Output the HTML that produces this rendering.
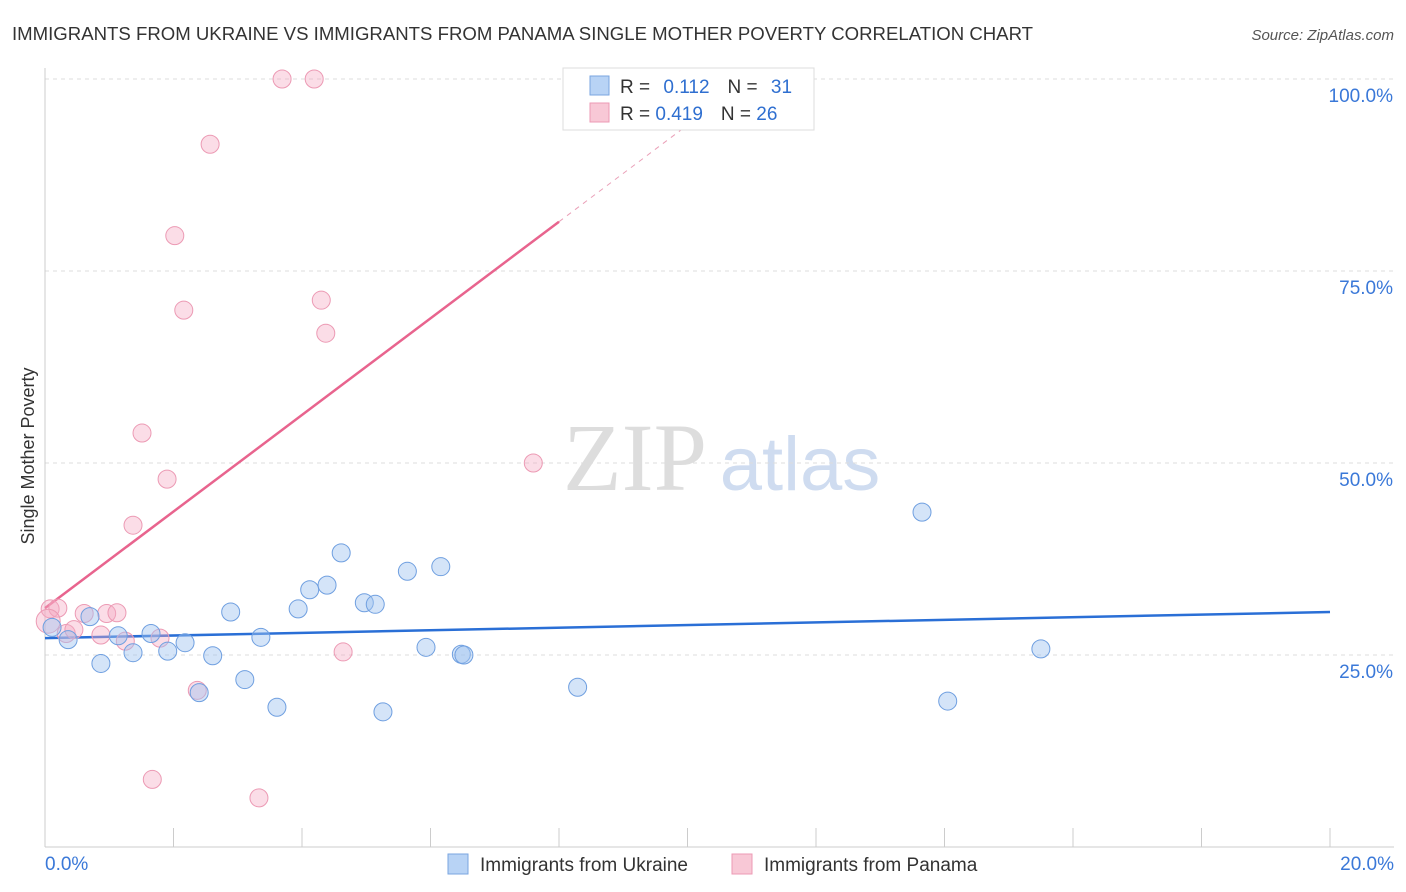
<!DOCTYPE html>
<html><head><meta charset="utf-8"><style>
body{margin:0;background:#fff;font-family:"Liberation Sans",sans-serif;}
svg{display:block}
</style></head><body>
<svg id="chart" width="1406" height="892" xmlns="http://www.w3.org/2000/svg">
<text x="12" y="40" font-size="18.6" fill="#333">IMMIGRANTS FROM UKRAINE VS IMMIGRANTS FROM PANAMA SINGLE MOTHER POVERTY CORRELATION CHART</text>
<text x="1394" y="40" font-size="15" fill="#555" font-style="italic" text-anchor="end">Source: ZipAtlas.com</text>
<text x="34" y="456" font-size="18" fill="#333" text-anchor="middle" transform="rotate(-90 34 456)">Single Mother Poverty</text>
<g><text x="635" y="490" font-size="96" font-family="Liberation Serif,serif" fill="#ddd" text-anchor="middle">ZIP</text><text x="800" y="490" font-size="76" fill="#cfdcf0" text-anchor="middle">atlas</text></g>
<g id="grid"></g><g id="axes"></g><g id="lines"></g><g id="pts"></g>
<g>
<rect x="563" y="68" width="251" height="62" fill="#fff" stroke="#ddd"/>
<rect x="590" y="76" width="19" height="19" fill="#b8d3f5" stroke="#7aa6e0"/>
<rect x="590" y="103" width="19" height="19" fill="#f8c8d6" stroke="#ec9ab4"/>
<text x="620" y="93" font-size="19" fill="#333">R = <tspan fill="#2f6fd0" dx="8">0.112</tspan><tspan fill="#333" dx="18">N = </tspan><tspan fill="#2f6fd0" dx="8">31</tspan></text>
<text x="620" y="120" font-size="19" fill="#333">R = <tspan fill="#2f6fd0">0.419</tspan><tspan fill="#333" dx="18">N = </tspan><tspan fill="#2f6fd0">26</tspan></text>
</g>
<g>
<rect x="448" y="854" width="20" height="20" fill="#b8d3f5" stroke="#7aa6e0"/>
<text x="480" y="871" font-size="19" fill="#333">Immigrants from Ukraine</text>
<rect x="732" y="854" width="20" height="20" fill="#f8c8d6" stroke="#ec9ab4"/>
<text x="764" y="871" font-size="19" fill="#333">Immigrants from Panama</text>
</g>
</svg>
<script>
const yTicks=[25,50,75,100];
const yTickLabels=["25.0%","50.0%","75.0%","100.0%"];
const xTicksCount=10;
const ukraineX=[0.11,0.36,0.70,0.87,1.14,1.37,1.65,1.91,2.18,2.40,2.61,2.89,3.11,3.36,3.61,3.94,4.12,4.39,4.61,4.97,5.14,5.26,5.64,5.93,6.16,6.48,6.52,8.29,13.65,14.05,15.50];
const ukraineY=[28.6,27.0,30.0,23.9,27.5,25.3,27.8,25.5,26.6,20.1,24.9,30.6,21.8,27.3,18.2,31.0,33.5,34.1,38.3,31.8,31.6,17.6,35.9,26.0,36.5,25.1,25.0,20.8,43.6,19.0,25.8];
const panamaX=[0.08,0.20,0.33,0.45,0.61,0.87,0.96,1.12,1.25,1.37,1.51,1.67,1.79,1.90,2.02,2.16,2.37,2.57,3.33,3.69,4.19,4.30,4.37,4.64,7.60,0.05];
const panamaY=[31.0,31.1,27.8,28.3,30.4,27.6,30.4,30.5,26.8,41.9,53.9,8.8,27.2,47.9,79.6,69.9,20.4,91.5,6.4,100,100,71.2,66.9,25.4,50.0,29.4];
const blueFit=[27.2,0.17];
const pinkFit=[31.1,6.29];
const X=v=>45+v/20*1285, Y=v=>847-v/100*768;
const ns="http://www.w3.org/2000/svg";
function mk(t,a,p){const e=document.createElementNS(ns,t);for(const k in a)e.setAttribute(k,a[k]);p.appendChild(e);return e;}
const grid=document.getElementById('grid'),axes=document.getElementById('axes'),lines=document.getElementById('lines'),pts=document.getElementById('pts');
yTicks.forEach((t,i)=>{
 const g=mk('line',{x1:45,x2:1394,y1:Y(t),y2:Y(t),stroke:'#ddd','stroke-dasharray':'4 4'},grid);
 
 
 const l=mk('text',{x:1393,y:Y(t)+23,'font-size':19,fill:'#3a78d8','text-anchor':'end'},axes);l.textContent=yTickLabels[i];
 
 
});
const ax=mk('line',{x1:45,x2:45,y1:68,y2:847,stroke:'#ccc'},axes);


const bx=mk('line',{x1:45,x2:1394,y1:847,y2:847,stroke:'#ccc'},axes);


for(let i=1;i<=xTicksCount;i++){const t=mk('line',{x1:X(i*2),x2:X(i*2),y1:828,y2:847,stroke:'#ccc'},axes);
 
 }
const x0=mk('text',{x:45,y:870,'font-size':19,fill:'#3a78d8'},axes);x0.textContent='0.0%';


const x1=mk('text',{x:1394,y:870,'font-size':19,fill:'#3a78d8','text-anchor':'end'},axes);x1.textContent='20.0%';


const bl=mk('line',{x1:X(0),y1:Y(blueFit[0]),x2:X(20),y2:Y(blueFit[0]+blueFit[1]*20),stroke:'#2a6fd6','stroke-width':2.5},lines);


const pEnd=8, pMax=(100-pinkFit[0])/pinkFit[1];
const pl=mk('line',{x1:X(0),y1:Y(pinkFit[0]),x2:X(pEnd),y2:Y(pinkFit[0]+pinkFit[1]*pEnd),stroke:'#e8648e','stroke-width':2.5},lines);


const pd=mk('line',{x1:X(pEnd),y1:Y(pinkFit[0]+pinkFit[1]*pEnd),x2:X(pMax),y2:Y(100),stroke:'#eaa0b8','stroke-width':1,'stroke-dasharray':'5 5'},lines);


panamaX.forEach((x,i)=>{const c=mk('circle',{cx:X(x),cy:Y(panamaY[i]),r:i==25?12:9,fill:'rgba(245,170,195,0.4)',stroke:'#ec9ab4','stroke-width':1},pts);
 
 });
ukraineX.forEach((x,i)=>{const c=mk('circle',{cx:X(x),cy:Y(ukraineY[i]),r:9,fill:'rgba(160,195,240,0.45)',stroke:'#6f9fe0','stroke-width':1},pts);
 
 });
</script>
</body></html>
